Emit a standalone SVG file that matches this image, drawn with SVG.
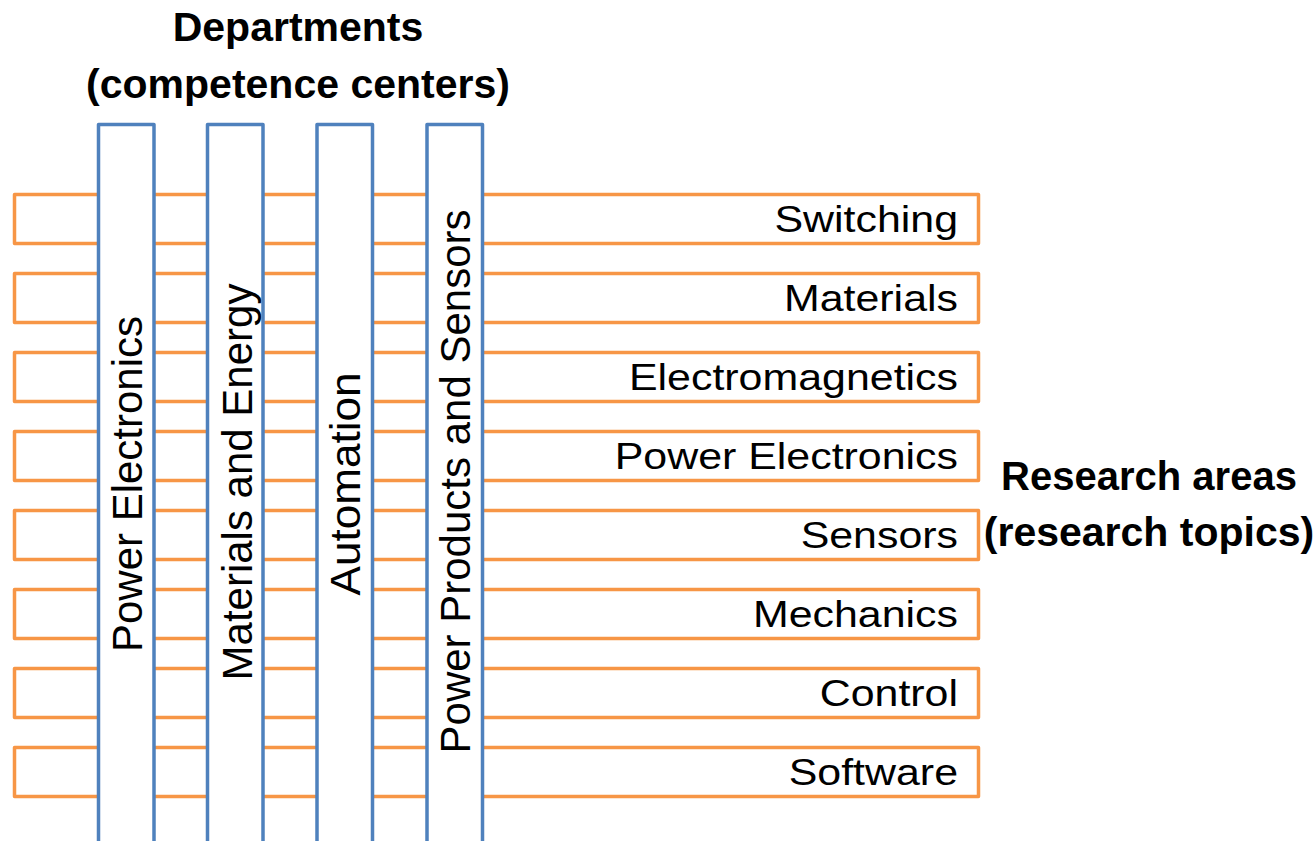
<svg xmlns="http://www.w3.org/2000/svg" width="1316" height="841" viewBox="0 0 1316 841">
<style>
.row{fill:#FFFFFF;stroke:#F79646;stroke-width:3.5;stroke-linejoin:round}
.col{fill:#FFFFFF;stroke:#4F81BD;stroke-width:3.5;stroke-linejoin:round}
.lbl{font-family:"Liberation Sans",Arial,sans-serif;font-size:37px;fill:#000000;text-anchor:end}
.vl{font-family:"Liberation Sans",Arial,sans-serif;font-size:42px;fill:#000000;text-anchor:middle}
.ttl{font-family:"Liberation Sans",Arial,sans-serif;font-size:41px;font-weight:bold;fill:#000000;text-anchor:middle}
</style>
<rect width="1316" height="841" fill="#FFFFFF"/>
<g id="titles">
<text class="ttl" x="298" y="41">Departments</text>
<text class="ttl" x="298" y="98">(competence centers)</text>
<text class="ttl" x="1149" y="490" style="font-size:40px">Research areas</text>
<text class="ttl" x="1149" y="546">(research topics)</text>
</g>
<g id="rows">
<g id="row-switching"><rect class="row" x="14.5" y="194.5" width="964" height="49"/><text class="lbl" transform="translate(958,232) scale(1.16,1)">Switching</text></g>
<g id="row-materials"><rect class="row" x="14.5" y="273.5" width="964" height="49"/><text class="lbl" transform="translate(958,311) scale(1.16,1)">Materials</text></g>
<g id="row-electromagnetics"><rect class="row" x="14.5" y="352.5" width="964" height="49"/><text class="lbl" transform="translate(958,390) scale(1.16,1)">Electromagnetics</text></g>
<g id="row-power-electronics"><rect class="row" x="14.5" y="431.5" width="964" height="49"/><text class="lbl" transform="translate(958,469) scale(1.16,1)">Power Electronics</text></g>
<g id="row-sensors"><rect class="row" x="14.5" y="510.5" width="964" height="49"/><text class="lbl" transform="translate(958,548) scale(1.16,1)">Sensors</text></g>
<g id="row-mechanics"><rect class="row" x="14.5" y="589.5" width="964" height="49"/><text class="lbl" transform="translate(958,627) scale(1.16,1)">Mechanics</text></g>
<g id="row-control"><rect class="row" x="14.5" y="668.5" width="964" height="49"/><text class="lbl" transform="translate(958,706) scale(1.16,1)">Control</text></g>
<g id="row-software"><rect class="row" x="14.5" y="747.5" width="964" height="49"/><text class="lbl" transform="translate(958,785) scale(1.16,1)">Software</text></g>
</g>
<g id="columns">
<g id="col-power-electronics"><rect class="col" x="98.5" y="124.5" width="55.5" height="740"/><text class="vl" transform="translate(141.7,484) rotate(-90)">Power Electronics</text></g>
<g id="col-materials-energy"><rect class="col" x="207.5" y="124.5" width="55.5" height="740"/><text class="vl" transform="translate(251.7,482) rotate(-90)">Materials and Energy</text></g>
<g id="col-automation"><rect class="col" x="317" y="124.5" width="55.5" height="740"/><text class="vl" transform="translate(360,484) rotate(-90) scale(1.05,1)">Automation</text></g>
<g id="col-power-products-sensors"><rect class="col" x="427" y="124.5" width="55.5" height="740"/><text class="vl" transform="translate(470,481.5) rotate(-90)">Power Products and Sensors</text></g>
</g>
<g id="connectors"></g>
</svg>
